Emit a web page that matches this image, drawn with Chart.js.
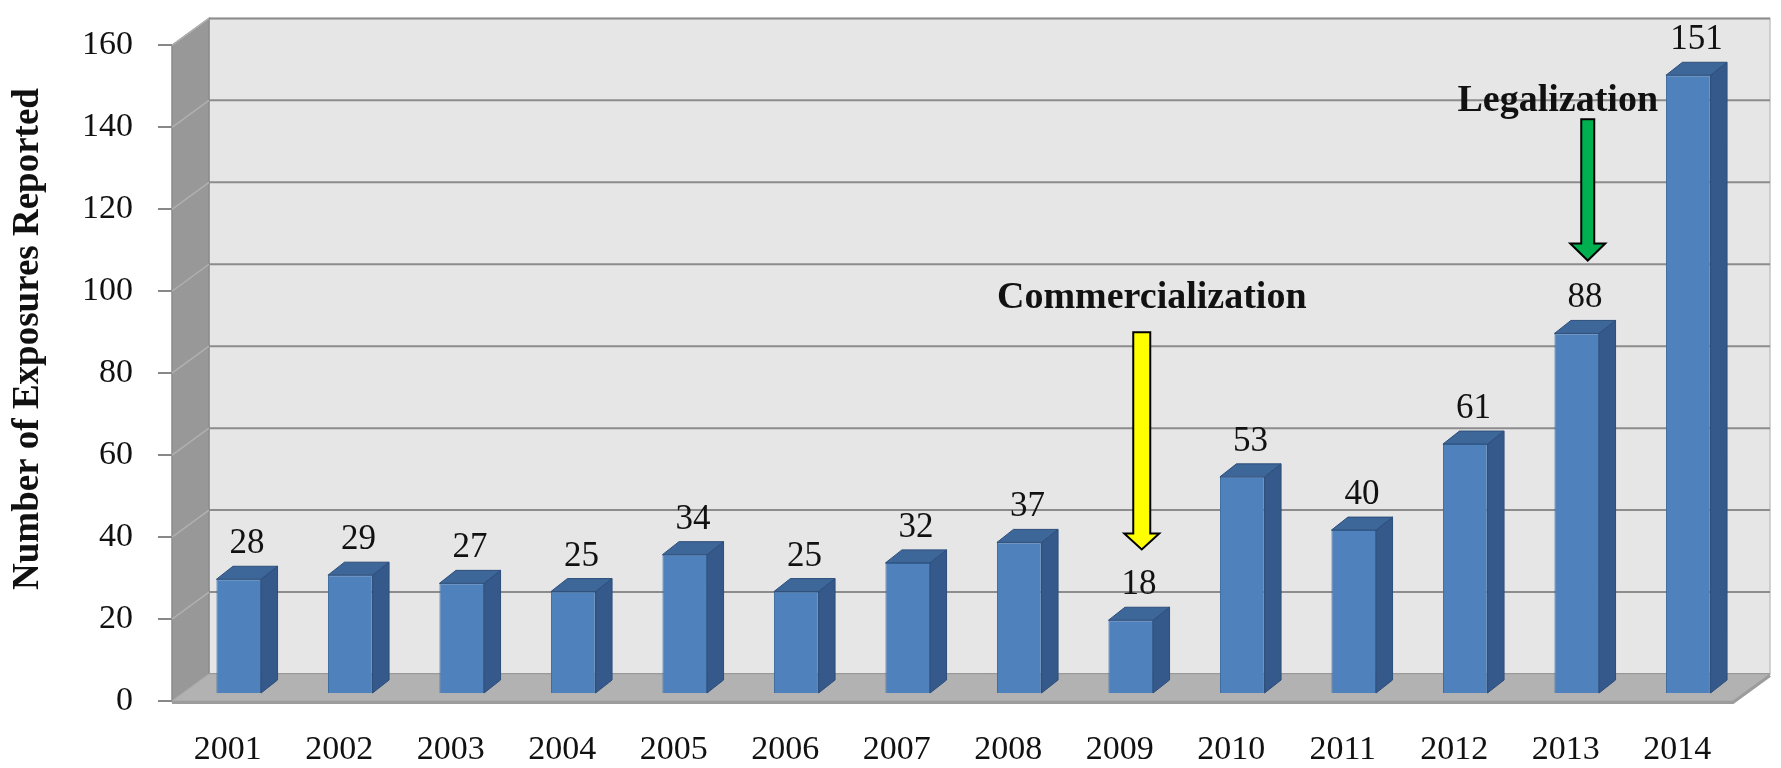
<!DOCTYPE html>
<html>
<head>
<meta charset="utf-8">
<title>Exposures Reported 2001–2014</title>
<script src="https://cdn.jsdelivr.net/npm/chart.js@4.4.1/dist/chart.umd.min.js"></script>
<style>
  html, body { margin: 0; padding: 0; background: #fff; }
  #wrap { width: 1781px; height: 768px; }
</style>
</head>
<body>
<div id="wrap"><canvas id="chart" width="1781" height="768"></canvas></div>
<script>
// ---- data ----
const years = ['2001', '2002', '2003', '2004', '2005', '2006', '2007',
               '2008', '2009', '2010', '2011', '2012', '2013', '2014'];
const exposures = [28, 29, 27, 25, 34, 25, 32, 37, 18, 53, 40, 61, 88, 151];
const yTicks = [0, 20, 40, 60, 80, 100, 120, 140, 160];
const yTitle = 'Number of Exposures Reported';

// event markers: label, year pointed at, value of label baseline, arrow tail, arrow tip
const eventLabels = ['Commercialization', 'Legalization'];
const eventYears = ['2009', '2013'];
const eventTextAt = [96, 144];
const eventArrowFrom = [90, 142];
const eventArrowTo = [37, 107.5];

// ---- look ----
const FONT = '"Liberation Serif", "Times New Roman", serif';
const WALL = { dx: 37, dy: -27 };   // front plane -> back wall
const SHIFT = { dx: 11, dy: -7 };   // front plane -> bar front faces
const DEPTH = { dx: 16.5, dy: -13 }; // bar thickness
const eventStyle = [
  { textDx: 32, arrowDx: 22, fill: '#ffff00', shaft: 17, head: 35, headH: 16 },
  { textDx: -8, arrowDx: 22, fill: '#00b050', shaft: 13, head: 35, headH: 17 },
];

Chart.defaults.font.family = FONT;
Chart.defaults.color = '#111';

function poly(ctx, pts, fill, stroke, lw) {
  ctx.beginPath();
  ctx.moveTo(pts[0][0], pts[0][1]);
  for (let i = 1; i < pts.length; i++) ctx.lineTo(pts[i][0], pts[i][1]);
  ctx.closePath();
  if (fill) { ctx.fillStyle = fill; ctx.fill(); }
  if (stroke) { ctx.strokeStyle = stroke; ctx.lineWidth = lw || 1; ctx.stroke(); }
}

// walls, floor and gridlines behind everything
const box3d = {
  id: 'box3d',
  beforeDraw(chart) {
    const { ctx, chartArea: a, scales: { y } } = chart;
    ctx.save();
    // back wall
    poly(ctx, [[a.left + WALL.dx, a.top + WALL.dy], [a.right + WALL.dx, a.top + WALL.dy],
               [a.right + WALL.dx, a.bottom + WALL.dy], [a.left + WALL.dx, a.bottom + WALL.dy]],
         '#e6e6e6', '#c4c4c4', 1.5);
    // left wall
    poly(ctx, [[a.left, a.top], [a.left + WALL.dx, a.top + WALL.dy],
               [a.left + WALL.dx, a.bottom + WALL.dy], [a.left, a.bottom]],
         '#989898', '#8a8a8a', 1.5);
    // gridlines
    yTicks.forEach((v) => {
      const py = y.getPixelForValue(v);
      ctx.beginPath();
      ctx.moveTo(a.left, py);
      ctx.lineTo(a.left + WALL.dx, py + WALL.dy);
      ctx.strokeStyle = '#b0b0b0';
      ctx.lineWidth = 1.5;
      ctx.stroke();
      ctx.beginPath();
      ctx.moveTo(a.left + WALL.dx, py + WALL.dy);
      ctx.lineTo(a.right + WALL.dx, py + WALL.dy);
      ctx.strokeStyle = '#8c8c8c';
      ctx.lineWidth = 2;
      ctx.stroke();
    });
    // floor
    poly(ctx, [[a.left, a.bottom], [a.right, a.bottom],
               [a.right + WALL.dx, a.bottom + WALL.dy], [a.left + WALL.dx, a.bottom + WALL.dy]],
         '#b2b2b2', '#a6a6a6', 1);
    ctx.beginPath();
    ctx.moveTo(a.left, a.bottom + 1.5);
    ctx.lineTo(a.right, a.bottom + 1.5);
    ctx.lineTo(a.right + WALL.dx, a.bottom + WALL.dy + 1.5);
    ctx.strokeStyle = '#9c9c9c';
    ctx.lineWidth = 3;
    ctx.stroke();
    ctx.restore();
  },
  beforeDatasetsDraw(chart) {
    chart.ctx.save();
    chart.ctx.translate(SHIFT.dx, SHIFT.dy);
  },
  afterDatasetsDraw(chart) {
    const { ctx } = chart;
    const meta = chart.getDatasetMeta(0);
    // side and top faces, still in the shifted frame
    meta.data.forEach((bar) => {
      const { x, y, base, width } = bar.getProps(['x', 'y', 'base', 'width'], true);
      const l = x - width / 2, r = x + width / 2;
      poly(ctx, [[r, y], [r + DEPTH.dx, y + DEPTH.dy], [r + DEPTH.dx, base + DEPTH.dy], [r, base]],
           '#35598a', '#2d4e7a', 1);
      poly(ctx, [[l, y], [l + DEPTH.dx, y + DEPTH.dy], [r + DEPTH.dx, y + DEPTH.dy], [r, y]],
           '#3d6699', '#2d4e7a', 1);
    });
    ctx.restore();

    // value labels
    ctx.save();
    ctx.font = '35px ' + FONT;
    ctx.fillStyle = '#111';
    ctx.textAlign = 'center';
    ctx.textBaseline = 'alphabetic';
    meta.data.forEach((bar, i) => {
      const { x, y } = bar.getProps(['x', 'y'], true);
      ctx.fillText(String(exposures[i]),
                   x + SHIFT.dx + DEPTH.dx / 2,
                   y + SHIFT.dy + DEPTH.dy - 13);
    });
    ctx.restore();
  },
  afterDraw(chart) {
    const { ctx, scales: { x, y } } = chart;
    ctx.save();
    // event labels and arrows
    eventLabels.forEach((label, i) => {
      const st = eventStyle[i];
      const cx = x.getPixelForValue(years.indexOf(eventYears[i]));
      ctx.font = 'bold 38px ' + FONT;
      ctx.fillStyle = '#111';
      ctx.textAlign = 'center';
      ctx.textBaseline = 'alphabetic';
      ctx.fillText(label, cx + st.textDx, y.getPixelForValue(eventTextAt[i]));

      const ax = cx + st.arrowDx;
      const top = y.getPixelForValue(eventArrowFrom[i]);
      const tip = y.getPixelForValue(eventArrowTo[i]);
      const s = st.shaft / 2, h = st.head / 2;
      ctx.lineJoin = 'miter';
      poly(ctx, [[ax - s, top], [ax + s, top], [ax + s, tip - st.headH], [ax + h, tip - st.headH],
                 [ax, tip], [ax - h, tip - st.headH], [ax - s, tip - st.headH]],
           st.fill, '#000', 2);
    });
    // y axis title
    ctx.translate(28, 339);
    ctx.rotate(-Math.PI / 2);
    ctx.font = 'bold 37px ' + FONT;
    ctx.fillStyle = '#111';
    ctx.textAlign = 'center';
    ctx.textBaseline = 'middle';
    ctx.fillText(yTitle, 0, 0);
    ctx.restore();
  },
};

new Chart(document.getElementById('chart'), {
  type: 'bar',
  data: {
    labels: years,
    datasets: [{
      data: exposures,
      backgroundColor: '#4f81bd',
      borderColor: '#3b6a9e',
      borderWidth: 1,
      barPercentage: 0.4,
      categoryPercentage: 1,
    }],
  },
  options: {
    responsive: false,
    devicePixelRatio: 1,
    animation: false,
    layout: { padding: { top: 40, right: 48, bottom: 0, left: 0 } },
    plugins: {
      legend: { display: false },
      tooltip: { enabled: false },
    },
    scales: {
      x: {
        grid: { display: false, drawTicks: false },
        border: { display: false },
        ticks: { font: { size: 34 }, color: '#111', padding: 29, maxRotation: 0, autoSkip: false },
        afterFit: (s) => { s.height = 67; },
      },
      y: {
        min: 0,
        max: 160,
        afterBuildTicks: (s) => { s.ticks = yTicks.map((v) => ({ value: v })); },
        grid: { display: true, drawOnChartArea: false, drawTicks: true, tickLength: 14,
                color: '#888', lineWidth: 2 },
        border: { display: false },
        ticks: { font: { size: 34 }, color: '#111', padding: 25 },
        afterFit: (s) => { s.width = 172; },
      },
    },
  },
  plugins: [box3d],
});
</script>
</body>
</html>
